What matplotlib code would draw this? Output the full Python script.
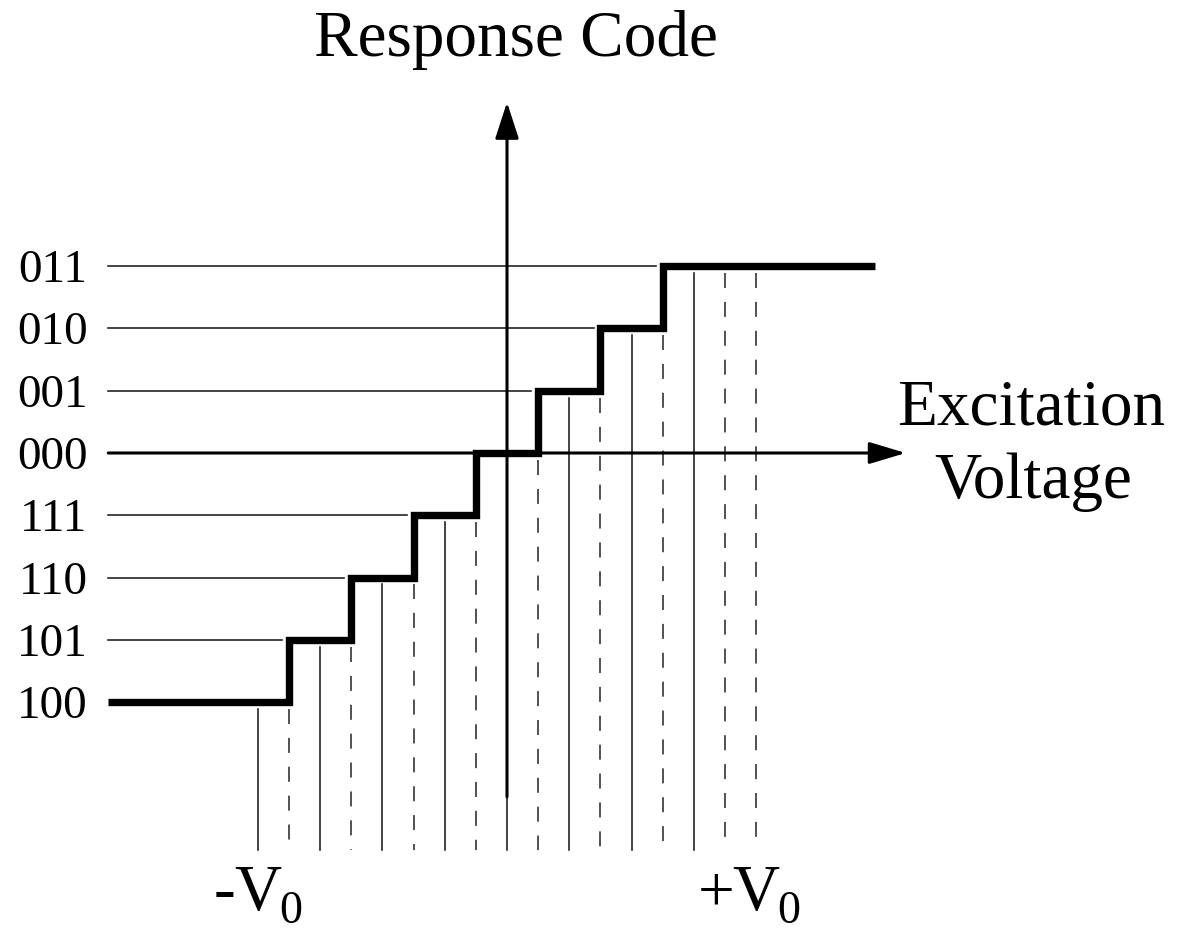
import numpy as np
import matplotlib
matplotlib.use("Agg")
import matplotlib.pyplot as plt

plt.rcParams["font.family"] = ["Liberation Serif", "DejaVu Serif"]
plt.rcParams["lines.scale_dashes"] = False

# Output code for each quantisation level (level index -4 .. 3, in LSB)
codes = ["100", "101", "110", "111", "000", "001", "010", "011"]
levels = np.arange(-4, 4)
# Excitation voltages where the code changes (in LSB)
transitions = [-3.5, -2.5, -1.5, -0.5, 0.5, 1.5, 2.5]
# Code-centre voltages (solid guides)
centres = [-4, -3, -2, -1, 0, 1, 2, 3]
# Further dashed markers past the last transition
extra_marks = [3.5, 4.0]
# Full-scale labels
fs_pos = [-4, 4]
fs_sign = ["-", "+"]

# Drawing extents (in LSB)
x_min, x_max = -6.4, 5.9
axis_x_end = 6.4
axis_y_top, axis_y_bottom = 5.63, -5.52
guide_bottom = -6.37
gap = 0.11

px = 62.3  # pixels per LSB
fig = plt.figure(figsize=(11.77, 9.34), dpi=100)
ax = fig.add_axes([0, 0, 1, 1])
ax.set_xlim(-507 / px, (1177 - 507) / px)
ax.set_ylim(-(934 - 453) / px, 453 / px)
ax.axis("off")


def level_at(x):
    return levels[np.searchsorted(transitions, x, side="left")]


guide_kw = dict(lw=1.15, color="#1a1a1a", zorder=1)
dash_kw = dict(lw=1.15, color="#2a2a2a", ls=(0, (10.8, 10.0)), zorder=1)

# solid guides at code centres
for c in centres:
    ax.plot([c, c], [level_at(c) - gap, guide_bottom], **guide_kw)

# dashed guides at transitions
for t in transitions + extra_marks:
    ax.plot([t, t], [level_at(t) - gap, guide_bottom], **dash_kw)

# thin horizontal guides from the code labels to where each code begins
for i, lvl in enumerate(levels):
    if i == 0 or lvl == 0:
        continue
    ax.plot([x_min, transitions[i - 1] - gap], [lvl, lvl], **guide_kw)

# transfer staircase
edges = [x_min] + transitions + [x_max]
st = ax.stairs(levels, edges, baseline=None, color="black", lw=5.3, zorder=4)
st.set_joinstyle("miter")
st.set_capstyle("butt")

# axes with arrow heads
arrow_kw = dict(arrowstyle="-|>,head_length=0.4,head_width=0.13", lw=2.2,
                color="black", shrinkA=0, shrinkB=0, mutation_scale=56)
ax.annotate("", xy=(0, axis_y_top), xytext=(0, axis_y_bottom),
            arrowprops=arrow_kw, zorder=3)
arrow_kw_h = dict(arrow_kw, arrowstyle="-|>,head_length=0.4,head_width=0.12")
ax.annotate("", xy=(axis_x_end, 0), xytext=(x_min, 0),
            arrowprops=arrow_kw_h, zorder=3)

# code labels
for code, lvl in zip(codes, levels):
    ax.text(-6.73, lvl - 0.257, code, ha="right", va="baseline", fontsize=34)

# axis titles
ax.text(0.14, 6.37, "Response Code", ha="center", va="baseline", fontsize=47)
ax.text(8.41, 0.45, "Excitation", ha="center", va="baseline", fontsize=47)
ax.text(8.44, -0.72, "Voltage", ha="center", va="baseline", fontsize=47)

# full-scale labels
big, small = 47, 33
em = big / 72 * 100 / px
for pos, sign in zip(fs_pos, fs_sign):
    ax.text(pos, -7.34, "V", ha="center", va="baseline", fontsize=big)
    ax.text(pos - 0.34 * em, -7.34, sign, ha="right", va="baseline", fontsize=big)
    ax.text(pos + 0.33 * em, -7.55, "0", ha="left", va="baseline", fontsize=small)

fig.savefig("out.png", dpi=100)
